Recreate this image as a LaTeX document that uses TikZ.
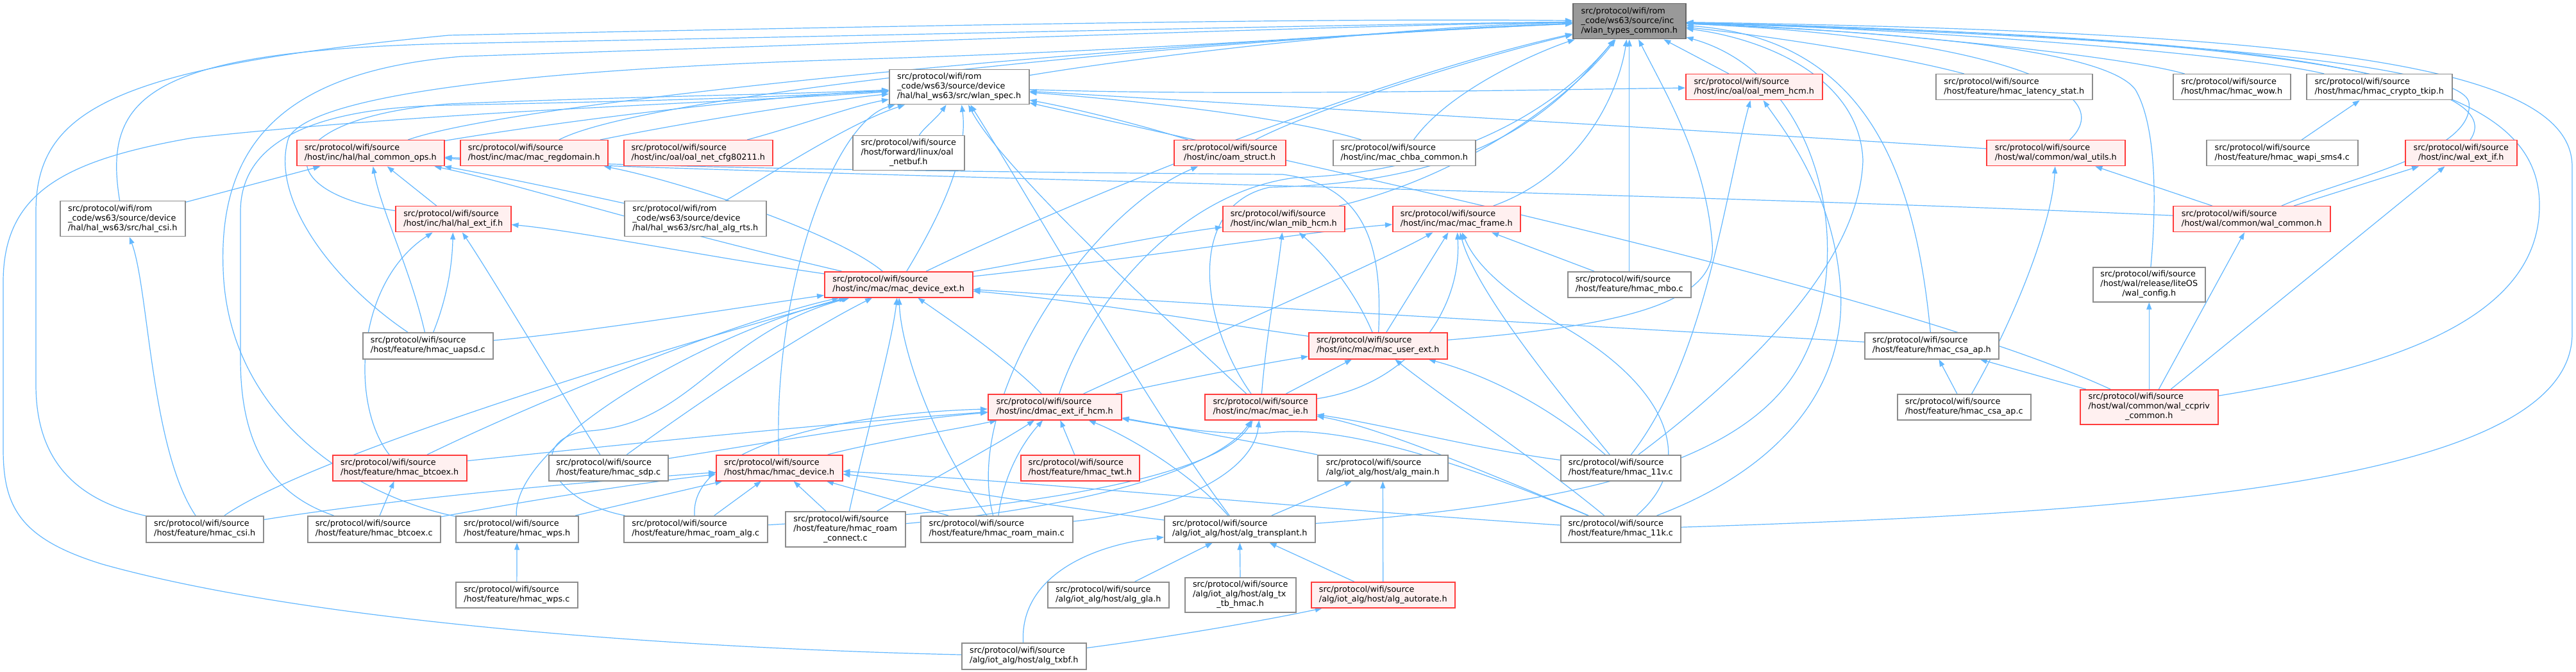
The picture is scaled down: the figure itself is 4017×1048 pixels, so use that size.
\documentclass[tikz,border=0pt]{standalone}
\usepackage{fontspec}
\setmainfont{DejaVu Sans}
\usetikzlibrary{arrows.meta}
\definecolor{edgec}{HTML}{63B8FF}
\definecolor{bgray}{HTML}{8C8C8C}
\definecolor{bred}{HTML}{FF3B3B}
\definecolor{fpink}{HTML}{FFF0F0}
\definecolor{rootfill}{HTML}{999999}
\definecolor{rootdraw}{HTML}{666666}
\newcommand\lblA[2]{\begin{tabular}{@{}l@{}}#1\\\multicolumn{1}{@{}c@{}}{#2}\end{tabular}}
\newcommand\srcp{src/protocol/wifi/source}
\newcommand\romp{src/protocol/wifi/rom}
\pgfdeclarelayer{bg}
\pgfsetlayers{bg,main}
\begin{document}
\begin{tikzpicture}[x=1pt,y=-1pt,
  every node/.style={font=\fontsize{12.8}{15}\selectfont, inner sep=0pt, anchor=north west, line width=1.5pt},
  nb/.style={draw=bgray, fill=white},
  nr/.style={draw=bred, fill=fpink},
  nroot/.style={draw=rootdraw, fill=rootfill},
  e/.style={draw=edgec, line width=1.2pt, -{Triangle[length=11pt,width=8pt]}},
]
\useasboundingbox (0,0) rectangle (4017,1048);
% ---------------- nodes ----------------
\node[nroot,minimum width=176pt,minimum height=55pt] (R) at (2452,5) {\lblA{\romp\\\_code/ws63/source/inc}{/wlan\_types\_common.h}};
\node[nb,minimum width=218pt,minimum height=54pt] (spec) at (1386,108) {\lblA{\romp\\\_code/ws63/source/device}{/hal/hal\_ws63/src/wlan\_spec.h}};
\node[nr,minimum width=213pt,minimum height=40pt] (omem) at (2628,115) {\lblA{\srcp}{/host/inc/oal/oal\_mem\_hcm.h}};
\node[nb,minimum width=244pt,minimum height=40pt] (lat) at (3018,115) {\lblA{\srcp}{/host/feature/hmac\_latency\_stat.h}};
\node[nb,minimum width=183pt,minimum height=40pt] (wow) at (3388,115) {\lblA{\srcp}{/host/hmac/hmac\_wow.h}};
\node[nb,minimum width=227pt,minimum height=40pt] (tkip) at (3596,115) {\lblA{\srcp}{/host/hmac/hmac\_crypto\_tkip.h}};
\node[nr,minimum width=230pt,minimum height=40pt] (hcops) at (462,218) {\lblA{\srcp}{/host/inc/hal/hal\_common\_ops.h}};
\node[nr,minimum width=230pt,minimum height=40pt] (regd) at (717,218) {\lblA{\srcp}{/host/inc/mac/mac\_regdomain.h}};
\node[nr,minimum width=232pt,minimum height=40pt] (cfg) at (972,218) {\lblA{\srcp}{/host/inc/oal/oal\_net\_cfg80211.h}};
\node[nb,minimum width=174pt,minimum height=54pt] (netbuf) at (1329,211) {\lblA{\srcp\\/host/forward/linux/oal}{\_netbuf.h}};
\node[nr,minimum width=174pt,minimum height=40pt] (oam) at (1830,218) {\lblA{\srcp}{/host/inc/oam\_struct.h}};
\node[nb,minimum width=222pt,minimum height=40pt] (chba) at (2078,218) {\lblA{\srcp}{/host/inc/mac\_chba\_common.h}};
\node[nr,minimum width=216pt,minimum height=40pt] (walu) at (3097,218) {\lblA{\srcp}{/host/wal/common/wal\_utils.h}};
\node[nb,minimum width=236pt,minimum height=40pt] (wapi) at (3440,218) {\lblA{\srcp}{/host/feature/hmac\_wapi\_sms4.c}};
\node[nr,minimum width=174pt,minimum height=40pt] (walx) at (3750,218) {\lblA{\srcp}{/host/inc/wal\_ext\_if.h}};
\node[nb,minimum width=195pt,minimum height=55pt] (halcsi) at (93,313) {\lblA{\romp\\\_code/ws63/source/device}{/hal/hal\_ws63/src/hal\_csi.h}};
\node[nr,minimum width=180pt,minimum height=40pt] (hext) at (616,321) {\lblA{\srcp}{/host/inc/hal/hal\_ext\_if.h}};
\node[nb,minimum width=221pt,minimum height=55pt] (rts) at (973,313) {\lblA{\romp\\\_code/ws63/source/device}{/hal/hal\_ws63/src/hal\_alg\_rts.h}};
\node[nr,minimum width=190pt,minimum height=40pt] (mib) at (1906,321) {\lblA{\srcp}{/host/inc/wlan\_mib\_hcm.h}};
\node[nr,minimum width=199pt,minimum height=40pt] (frame) at (2171,321) {\lblA{\srcp}{/host/inc/mac/mac\_frame.h}};
\node[nr,minimum width=245pt,minimum height=40pt] (walc) at (3388,321) {\lblA{\srcp}{/host/wal/common/wal\_common.h}};
\node[nr,minimum width=231pt,minimum height=40pt] (mdev) at (1285,423) {\lblA{\srcp}{/host/inc/mac/mac\_device\_ext.h}};
\node[nb,minimum width=192pt,minimum height=40pt] (mbo) at (2444,423) {\lblA{\srcp}{/host/feature/hmac\_mbo.c}};
\node[nb,minimum width=175pt,minimum height=54pt] (wcfg) at (3263,416) {\lblA{\srcp\\/host/wal/release/liteOS}{/wal\_config.h}};
\node[nb,minimum width=203pt,minimum height=41pt] (uapsd) at (565,518) {\lblA{\srcp}{/host/feature/hmac\_uapsd.c}};
\node[nr,minimum width=216pt,minimum height=41pt] (muser) at (2040,518) {\lblA{\srcp}{/host/inc/mac/mac\_user\_ext.h}};
\node[nb,minimum width=209pt,minimum height=41pt] (csaph) at (2907,518) {\lblA{\srcp}{/host/feature/hmac\_csa\_ap.h}};
\node[nr,minimum width=208pt,minimum height=40pt] (dmac) at (1540,614) {\lblA{\srcp}{/host/inc/dmac\_ext\_if\_hcm.h}};
\node[nr,minimum width=174pt,minimum height=40pt] (mie) at (1878,614) {\lblA{\srcp}{/host/inc/mac/mac\_ie.h}};
\node[nb,minimum width=208pt,minimum height=40pt] (csapc) at (2958,614) {\lblA{\srcp}{/host/feature/hmac\_csa\_ap.c}};
\node[nr,minimum width=215pt,minimum height=54pt] (ccpriv) at (3243,607) {\lblA{\srcp\\/host/wal/common/wal\_ccpriv}{\_common.h}};
\node[nr,minimum width=209pt,minimum height=40pt] (btcoexh) at (518,709) {\lblA{\srcp}{/host/feature/hmac\_btcoex.h}};
\node[nb,minimum width=186pt,minimum height=40pt] (sdp) at (855,709) {\lblA{\srcp}{/host/feature/hmac\_sdp.c}};
\node[nr,minimum width=197pt,minimum height=40pt] (hdev) at (1116,709) {\lblA{\srcp}{/host/hmac/hmac\_device.h}};
\node[nr,minimum width=185pt,minimum height=40pt] (twt) at (1591,709) {\lblA{\srcp}{/host/feature/hmac\_twt.h}};
\node[nb,minimum width=203pt,minimum height=40pt] (amain) at (2054,709) {\lblA{\srcp}{/alg/iot\_alg/host/alg\_main.h}};
\node[nb,minimum width=187pt,minimum height=40pt] (v11) at (2433,709) {\lblA{\srcp}{/host/feature/hmac\_11v.c}};
\node[nb,minimum width=183pt,minimum height=41pt] (csih) at (227,804) {\lblA{\srcp}{/host/feature/hmac\_csi.h}};
\node[nb,minimum width=207pt,minimum height=41pt] (btcoexc) at (479,804) {\lblA{\srcp}{/host/feature/hmac\_btcoex.c}};
\node[nb,minimum width=191pt,minimum height=41pt] (wpsh) at (710,804) {\lblA{\srcp}{/host/feature/hmac\_wps.h}};
\node[nb,minimum width=224pt,minimum height=41pt] (ralg) at (972,804) {\lblA{\srcp}{/host/feature/hmac\_roam\_alg.c}};
\node[nb,minimum width=187pt,minimum height=55pt] (rconn) at (1224,797) {\lblA{\srcp\\/host/feature/hmac\_roam}{\_connect.c}};
\node[nb,minimum width=237pt,minimum height=41pt] (rmain) at (1435,804) {\lblA{\srcp}{/host/feature/hmac\_roam\_main.c}};
\node[nb,minimum width=235pt,minimum height=41pt] (atrans) at (1815,804) {\lblA{\srcp}{/alg/iot\_alg/host/alg\_transplant.h}};
\node[nb,minimum width=187pt,minimum height=41pt] (k11) at (2433,804) {\lblA{\srcp}{/host/feature/hmac\_11k.c}};
\node[nb,minimum width=190pt,minimum height=40pt] (wpsc) at (710,907) {\lblA{\srcp}{/host/feature/hmac\_wps.c}};
\node[nb,minimum width=189pt,minimum height=40pt] (gla) at (1633,907) {\lblA{\srcp}{/alg/iot\_alg/host/alg\_gla.h}};
\node[nb,minimum width=173pt,minimum height=54pt] (txtb) at (1847,900) {\lblA{\srcp\\/alg/iot\_alg/host/alg\_tx}{\_tb\_hmac.h}};
\node[nr,minimum width=224pt,minimum height=40pt] (arate) at (2044,907) {\lblA{\srcp}{/alg/iot\_alg/host/alg\_autorate.h}};
\node[nb,minimum width=194pt,minimum height=41pt] (txbf) at (1499,1002) {\lblA{\srcp}{/alg/iot\_alg/host/alg\_txbf.h}};
% ---------------- edges ----------------
\begin{pgfonlayer}{bg}
\fill[white] (0,0) rectangle (4017,1048);
\draw[e] (spec) .. controls (1800,85) and (2200,40) .. (R);
\draw[e] (halcsi) .. controls (160,150) and (230,80) .. (700,68) .. controls (1400,55) and (2100,38) .. (R);
\draw[e] (csih) .. controls (120,780) and (56,720) .. (56,600) -- (56,330) .. controls (56,170) and (180,105) .. (700,55) .. controls (1500,38) and (2100,28) .. (R);
\draw[e] (hcops) .. controls (800,160) and (1700,70) .. (R);
\draw[e] (hcops) .. controls (900,185) and (1200,150) .. (spec);
\draw[e] (regd) .. controls (1000,150) and (1800,65) .. (R);
\draw[e] (regd) .. controls (1100,185) and (1300,155) .. (spec);
\draw[e] (cfg) .. controls (1250,195) and (1330,165) .. (spec);
\draw[e] (rts) .. controls (1220,260) and (1330,190) .. (spec);
\draw[e] (rts) .. controls (850,290) and (740,268) .. (hcops);
\draw[e] (netbuf) .. controls (1440,200) and (1460,185) .. (spec);
\draw[e] (oam) .. controls (2050,170) and (2300,90) .. (R);
\draw[e] (oam) .. controls (1780,195) and (1680,170) .. (spec);
\draw[e] (chba) .. controls (2260,140) and (2400,80) .. (R);
\draw[e] (chba) .. controls (2000,180) and (1750,155) .. (spec);
\draw[e] (mib) .. controls (2300,270) and (2460,140) .. (R);
\draw[e] (frame) .. controls (2470,270) and (2525,140) .. (R);
\draw[e] (mbo) -- (R);
\draw[e] (mbo) -- (frame);
\draw[e] (omem) -- (R);
\draw[e] (lat) .. controls (2950,85) and (2750,55) .. (R);
\draw[e] (walu) .. controls (3320,130) and (3050,55) .. (R);
\draw[e] (wow) .. controls (3300,85) and (2900,45) .. (R);
\draw[e] (tkip) .. controls (3500,85) and (3000,45) .. (R);
\draw[e] (wapi) -- (tkip);
\draw[e] (walx) .. controls (3920,120) and (3500,55) .. (R);
\draw[e] (walc) .. controls (3650,280) and (3860,240) .. (3850,160) .. controls (3840,95) and (3300,55) .. (R);
\draw[e] (walc) -- (walx);
\draw[e] (walc) -- (walu);
\draw[e] (walc) .. controls (2600,300) and (1000,268) .. (hcops);
\draw[e] (wcfg) .. controls (3362,330) and (3365,200) .. (3330,140) .. controls (3280,70) and (2900,48) .. (R);
\draw[e] (ccpriv) .. controls (3750,570) and (3960,490) .. (3960,320) .. controls (3960,110) and (3600,60) .. (R);
\draw[e] (ccpriv) -- (wcfg);
\draw[e] (ccpriv) -- (walc);
\draw[e] (ccpriv) -- (walx);
\draw[e] (ccpriv) -- (csaph);
\draw[e] (ccpriv) .. controls (2950,450) and (2000,250) .. (spec);
\draw[e] (k11) .. controls (3300,800) and (4011,760) .. (4011,520) -- (4011,260) .. controls (4011,100) and (3600,50) .. (R);
\draw[e] (halcsi) -- (hcops);
\draw[e] (csih) .. controls (235,700) and (232,450) .. (halcsi);
\draw[e] (hext) -- (hcops);
\draw[e] (hext) .. controls (420,300) and (420,185) .. (700,162) .. controls (1000,150) and (1200,148) .. (spec);
\draw[e] (uapsd) .. controls (640,420) and (595,330) .. (hcops);
\draw[e] (uapsd) .. controls (695,470) and (705,420) .. (hext);
\draw[e] (uapsd) .. controls (520,440) and (420,310) .. (450,215) .. controls (490,140) and (900,105) .. (1350,92) .. controls (1900,75) and (2200,45) .. (R);
\draw[e] (uapsd) .. controls (900,520) and (1150,480) .. (mdev);
\draw[e] (btcoexh) .. controls (545,630) and (555,440) .. (hext);
\draw[e] (btcoexh) .. controls (850,620) and (1150,500) .. (mdev);
\draw[e] (btcoexh) .. controls (1000,690) and (1300,660) .. (dmac);
\draw[e] (sdp) .. controls (880,620) and (760,420) .. (hext);
\draw[e] (sdp) .. controls (1100,620) and (1250,520) .. (mdev);
\draw[e] (sdp) .. controls (1200,690) and (1400,655) .. (dmac);
\draw[e] (mdev) .. controls (1100,400) and (900,360) .. (hext);
\draw[e] (mdev) .. controls (1000,350) and (800,285) .. (hcops);
\draw[e] (mdev) .. controls (1650,400) and (1800,368) .. (mib);
\draw[e] (mdev) .. controls (1700,300) and (2150,120) .. (R);
\draw[e] (mdev) .. controls (1800,400) and (2050,360) .. (frame);
\draw[e] (mdev) .. controls (1470,330) and (1510,240) .. (spec);
\draw[e] (mdev) .. controls (1300,360) and (1050,280) .. (regd);
\draw[e] (csih) .. controls (500,700) and (1150,510) .. (mdev);
\draw[e] (csih) .. controls (600,780) and (900,752) .. (hdev);
\draw[e] (btcoexc) -- (btcoexh);
\draw[e] (btcoexc) .. controls (800,785) and (1000,752) .. (hdev);
\draw[e] (btcoexc) .. controls (420,770) and (375,690) .. (375,560) -- (375,330) .. controls (375,225) and (480,168) .. (700,164) .. controls (1000,158) and (1200,152) .. (spec);
\draw[e] (wpsh) .. controls (540,770) and (355,640) .. (348,420) .. controls (340,210) and (460,110) .. (720,88) .. controls (1500,62) and (2100,40) .. (R);
\draw[e] (wpsh) -- (hdev);
\draw[e] (wpsh) .. controls (800,690) and (1100,520) .. (mdev);
\draw[e] (wpsc) -- (wpsh);
\draw[e] (hdev) .. controls (1205,450) and (1300,190) .. (spec);
\draw[e] (hdev) .. controls (1360,690) and (1500,668) .. (dmac);
\draw[e] (ralg) -- (hdev);
\draw[e] (ralg) .. controls (1075,700) and (1300,645) .. (dmac);
\draw[e] (ralg) .. controls (1600,795) and (1900,745) .. (mie);
\draw[e] (ralg) .. controls (850,780) and (820,680) .. (920,672) .. controls (1080,660) and (1120,520) .. (mdev);
\draw[e] (rconn) -- (hdev);
\draw[e] (rconn) .. controls (1350,680) and (1390,540) .. (mdev);
\draw[e] (rconn) .. controls (1450,750) and (1560,690) .. (dmac);
\draw[e] (rconn) .. controls (1700,790) and (1900,730) .. (mie);
\draw[e] (rmain) -- (hdev);
\draw[e] (rmain) .. controls (1500,620) and (1700,330) .. (oam);
\draw[e] (rmain) .. controls (1565,740) and (1595,690) .. (dmac);
\draw[e] (rmain) .. controls (1850,795) and (1955,730) .. (mie);
\draw[e] (rmain) .. controls (1450,680) and (1405,540) .. (mdev);
\draw[e] (dmac) .. controls (1570,560) and (1490,505) .. (mdev);
\draw[e] (dmac) .. controls (1700,470) and (1840,300) .. (2020,277) .. controls (2250,270) and (2420,180) .. (R);
\draw[e] (dmac) .. controls (1850,540) and (2150,410) .. (frame);
\draw[e] (dmac) .. controls (1850,590) and (1980,565) .. (muser);
\draw[e] (twt) -- (dmac);
\draw[e] (atrans) .. controls (1860,740) and (1760,680) .. (dmac);
\draw[e] (atrans) .. controls (1800,650) and (1600,300) .. (spec);
\draw[e] (atrans) .. controls (1600,785) and (1400,748) .. (hdev);
\draw[e] (atrans) -- (amain);
\draw[e] (atrans) .. controls (2400,790) and (2700,740) .. (2800,580) .. controls (2900,420) and (2850,120) .. (R);
\draw[e] (mie) -- (muser);
\draw[e] (mie) .. controls (1800,480) and (1560,260) .. (spec);
\draw[e] (mie) .. controls (1870,500) and (1850,320) .. (1980,292) .. controls (2300,285) and (2420,180) .. (R);
\draw[e] (mie) .. controls (1975,520) and (1992,430) .. (mib);
\draw[e] (mie) .. controls (2200,600) and (2280,480) .. (frame);
\draw[e] (muser) -- (frame);
\draw[e] (v11) .. controls (2420,600) and (2300,450) .. (frame);
\draw[e] (k11) .. controls (2650,720) and (2600,600) .. (2430,505) .. controls (2340,450) and (2300,410) .. (frame);
\draw[e] (muser) .. controls (2500,510) and (2680,480) .. (2670,380) .. controls (2660,250) and (2600,150) .. (R);
\draw[e] (muser) .. controls (2155,400) and (2140,290) .. (2000,272) .. controls (1500,268) and (1000,262) .. (hcops);
\draw[e] (muser) .. controls (1900,505) and (1700,470) .. (mdev);
\draw[e] (muser) .. controls (2120,470) and (2080,410) .. (mib);
\draw[e] (v11) .. controls (2400,620) and (2300,580) .. (muser);
\draw[e] (k11) .. controls (2400,720) and (2250,620) .. (muser);
\draw[e] (v11) .. controls (2300,700) and (2150,660) .. (mie);
\draw[e] (k11) .. controls (2350,750) and (2150,665) .. (mie);
\draw[e] (k11) .. controls (2300,730) and (2100,660) .. (1980,675) .. controls (1880,680) and (1800,660) .. (dmac);
\draw[e] (amain) .. controls (1980,694) and (1850,670) .. (dmac);
\draw[e] (k11) .. controls (2000,790) and (1600,750) .. (hdev);
\draw[e] (v11) .. controls (2660,560) and (2690,300) .. (omem);
\draw[e] (k11) .. controls (2780,730) and (2880,600) .. (2870,450) .. controls (2860,300) and (2780,200) .. (omem);
\draw[e] (v11) .. controls (2700,600) and (2900,420) .. (2905,250) .. controls (2900,120) and (2750,60) .. (R);
\draw[e] (csaph) .. controls (2500,510) and (1800,470) .. (mdev);
\draw[e] (csaph) .. controls (2985,250) and (2900,60) .. (R);
\draw[e] (csapc) -- (csaph);
\draw[e] (csapc) .. controls (3140,500) and (3200,350) .. (walu);
\draw[e] (gla) -- (atrans);
\draw[e] (txtb) -- (atrans);
\draw[e] (arate) -- (atrans);
\draw[e] (arate) -- (amain);
\draw[e] (txbf) .. controls (1590,900) and (1700,850) .. (atrans);
\draw[e] (txbf) .. controls (1850,990) and (2000,962) .. (arate);
\draw[e] (txbf) .. controls (1100,1012) and (500,975) .. (160,880) .. controls (30,840) and (5,790) .. (5,700) -- (5,440) .. controls (5,300) and (100,250) .. (300,215) .. controls (700,172) and (1100,162) .. (spec);
\draw[e] (spec) .. controls (1900,150) and (2400,140) .. (omem);
\draw[e] (walu) .. controls (2600,200) and (1900,160) .. (spec);
\end{pgfonlayer}
\end{tikzpicture}
\end{document}
